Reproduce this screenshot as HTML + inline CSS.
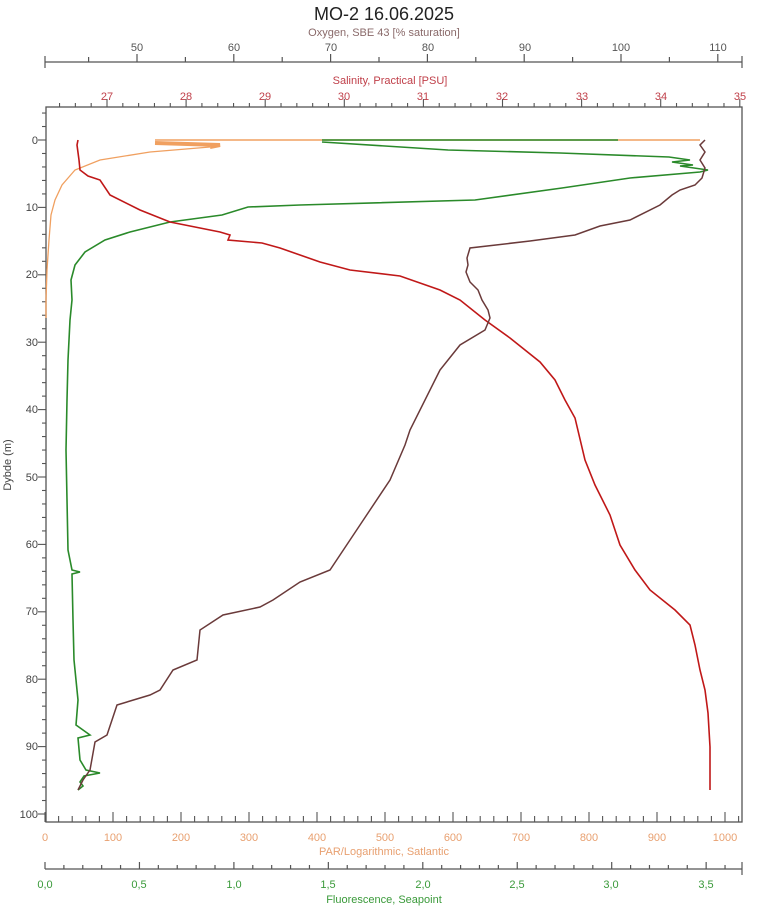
<!DOCTYPE html>
<html><head><meta charset="utf-8"><style>
html,body{margin:0;padding:0;background:#fff;}
svg{display:block;font-family:"Liberation Sans",sans-serif;}
</style></head><body>
<svg width="768" height="909" viewBox="0 0 768 909" xmlns="http://www.w3.org/2000/svg">
<rect width="768" height="909" fill="#fff"/>
<text x="384" y="20" font-size="18" text-anchor="middle" fill="#222">MO-2 16.06.2025</text>
<text x="384" y="36" font-size="11" text-anchor="middle" fill="#8a6a6a">Oxygen, SBE 43 [% saturation]</text>
<g font-size="11" fill="#555" text-anchor="middle">
<text x="137" y="51">50</text><text x="234" y="51">60</text><text x="331" y="51">70</text><text x="428" y="51">80</text><text x="525" y="51">90</text><text x="621" y="51">100</text><text x="718" y="51">110</text>
</g>
<line x1="45" y1="62" x2="742" y2="62" stroke="#555" stroke-width="1.3"/>
<g stroke="#555" stroke-width="1.2" id="oxt"></g>
<text x="390" y="84" font-size="11" text-anchor="middle" fill="#c0404a">Salinity, Practical [PSU]</text>
<g font-size="11" fill="#c0404a" text-anchor="middle">
<text x="107" y="100">27</text><text x="186" y="100">28</text><text x="265" y="100">29</text><text x="344" y="100">30</text><text x="423" y="100">31</text><text x="502" y="100">32</text><text x="582" y="100">33</text><text x="661" y="100">34</text><text x="740" y="100">35</text>
</g>
<rect x="46" y="107" width="696" height="715" fill="none" stroke="#555" stroke-width="1.3"/>
<g id="ticks" stroke="#555" stroke-width="1.1"></g>
<g font-size="11" fill="#444" text-anchor="end">
<text x="38" y="144">0</text><text x="38" y="211">10</text><text x="38" y="278">20</text><text x="38" y="346">30</text><text x="38" y="413">40</text><text x="38" y="481">50</text><text x="38" y="548">60</text><text x="38" y="615">70</text><text x="38" y="683">80</text><text x="38" y="750">90</text><text x="38" y="818">100</text>
</g>
<text transform="translate(11,465) rotate(-90)" font-size="11" text-anchor="middle" fill="#444">Dybde (m)</text>
<g font-size="11" fill="#e8a070" text-anchor="middle">
<text x="45" y="841">0</text><text x="113" y="841">100</text><text x="181" y="841">200</text><text x="249" y="841">300</text><text x="317" y="841">400</text><text x="385" y="841">500</text><text x="453" y="841">600</text><text x="521" y="841">700</text><text x="589" y="841">800</text><text x="657" y="841">900</text><text x="725" y="841">1000</text>
</g>
<text x="384" y="855" font-size="11" text-anchor="middle" fill="#e8a070">PAR/Logarithmic, Satlantic</text>
<line x1="45" y1="869" x2="742" y2="869" stroke="#555" stroke-width="1.3"/>
<g font-size="11" fill="#3a9a3a" text-anchor="middle">
<text x="45" y="888">0,0</text><text x="139" y="888">0,5</text><text x="234" y="888">1,0</text><text x="328" y="888">1,5</text><text x="423" y="888">2,0</text><text x="517" y="888">2,5</text><text x="611" y="888">3,0</text><text x="706" y="888">3,5</text>
</g>
<text x="384" y="903" font-size="11" text-anchor="middle" fill="#3a9a3a">Fluorescence, Seapoint</text>

<polyline fill="none" stroke="#f0a060" stroke-width="1.5" points="155,140 700,140"/>
<polyline fill="none" stroke="#f0a060" stroke-width="4" points="155,143 220,145 210,147"/>
<polyline fill="none" stroke="#f0a060" stroke-width="1.3" points="210,147 150,152 100,160 75,170 62,185 55,200 51,215 49,240 47,270 46,300 46,318"/>
<polyline fill="none" stroke="#2a8a2a" stroke-width="1.6" points="322,140 618,140"/>
<polyline fill="none" stroke="#2a8a2a" stroke-width="1.6" points="322,142 448,150 560,153 669,157 690,160 672,162 693,165 680,166 708,170 700,172 630,178 562,188 475,200 300,205 248,207 222,215 170,222 130,232 105,240 85,252 75,265 71,280 72,300 70,320 68,360 67,400 66,450 67,500 68,550 72,570 80,572 72,574 73,620 74,660 78,700 76,725 90,735 78,738 80,760 86,770 100,773 84,776 80,782 83,786 78,790"/>
<polyline fill="none" stroke="#c01818" stroke-width="1.6" points="78,140 77,145 79,160 80,170 88,176 100,180 110,195 140,210 170,222 220,232 230,235 228,240 262,243 280,248 320,262 350,270 400,276 440,290 460,300 485,320 510,338 540,362 555,380 565,400 575,418 585,460 595,485 610,515 620,545 635,570 650,590 675,610 690,625 695,645 700,670 705,690 708,713 710,747 710,790"/>
<polyline fill="none" stroke="#6a3a3a" stroke-width="1.5" points="705,140 700,145 705,152 700,160 705,168 702,178 695,185 680,190 672,195 660,205 630,220 600,226 575,235 530,241 470,248 467,258 468,265 466,272 470,282 478,290 482,300 488,310 490,318 485,330 460,345 440,370 435,380 410,430 405,445 390,480 362,522 350,540 330,570 300,582 273,600 260,607 223,615 200,630 197,660 173,670 160,690 150,695 117,705 112,720 107,735 95,742 90,770 83,780 78,790"/>
</svg>
<script>
(function(){
var ns="http://www.w3.org/2000/svg";
function ln(g,x1,y1,x2,y2){var l=document.createElementNS(ns,"line");l.setAttribute("x1",x1);l.setAttribute("y1",y1);l.setAttribute("x2",x2);l.setAttribute("y2",y2);g.appendChild(l);}
var g=document.getElementById("ticks"),o=document.getElementById("oxt");
for(var v=45;v<=110;v+=5){var x=137+(v-50)*9.68;ln(o,x,62,x,v%10==0?54:57);}
ln(o,45,56,45,68);ln(o,742,56,742,68);
for(var i=0;i<=44;i++){var s=26.2+i*0.2;var x=107+(s-27)*79.1;if(x<46||x>742)continue;var maj=Math.abs(s-Math.round(s))<0.01;ln(g,x,107,x,maj?99:103);}
for(var d=-4;d<=100;d+=2){var y=140+d*6.74;ln(g,46,y,d%10==0?38:42,y);}
for(var p=0;p<=1020;p+=20){var x=45+p*0.68;if(x>742)break;ln(g,x,822,x,p%100==0?812:816);}
for(var f=0;f<=37;f++){var x=45+f*18.89;if(x>742)break;ln(o,x,869,x,f%5==0?862:865);}
ln(o,742,862,742,875);
})();
</script>
</body></html>
